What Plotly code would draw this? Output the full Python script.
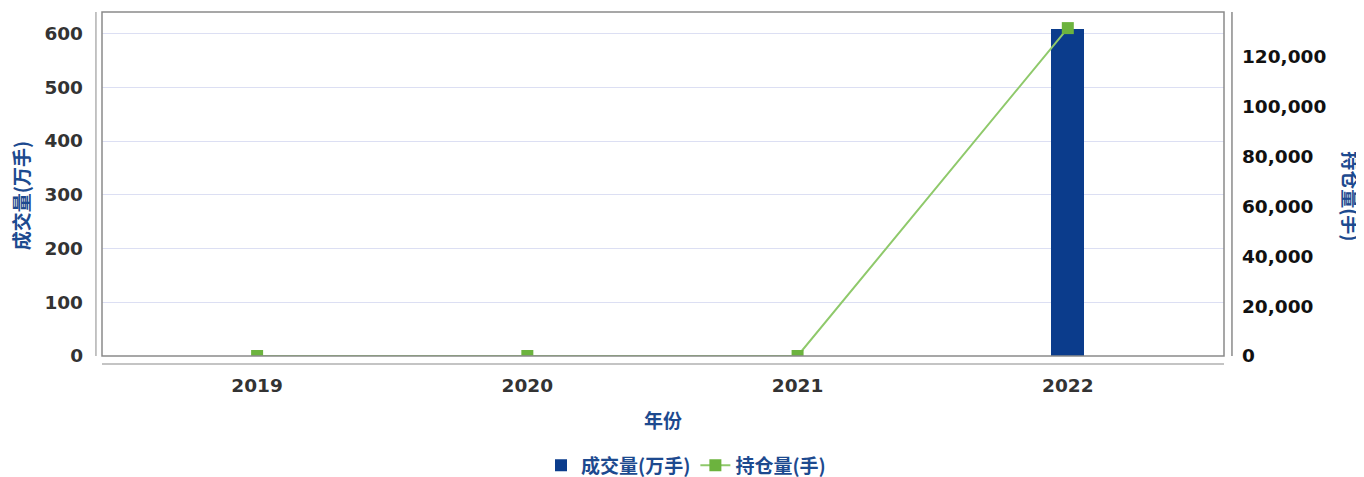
import plotly.graph_objects as go

years = ["2019", "2020", "2021", "2022"]
volume_wan = [0, 0, 0, 609]          # 成交量(万手)
open_interest = [0, 0, 0, 131300]    # 持仓量(手)

left_ticks = [0, 100, 200, 300, 400, 500, 600]
right_ticks = [0, 20000, 40000, 60000, 80000, 100000, 120000]
right_labels = ["0", "20,000", "40,000", "60,000", "80,000", "100,000", "120,000"]

navy = "#0b3c8c"
green = "#6cb33e"
title_blue = "#1d4a8f"
tick_font = dict(family="DejaVu Sans", size=18.5, color="#333333", weight="bold")
title_font = dict(family="Noto Sans CJK SC", size=19, color=title_blue, weight="bold")

fig = go.Figure()
fig.add_trace(go.Bar(
    x=[0, 1, 2, 3], y=volume_wan, name="成交量(万手)",
    marker=dict(color=navy, line=dict(width=0)), width=0.123, yaxis="y",
))
fig.add_trace(go.Scatter(
    x=[0, 1, 2, 3], y=open_interest, name="持仓量(手)", mode="lines+markers",
    line=dict(color="#8fc96b", width=2),
    marker=dict(color=green, symbol="square", size=12),
    yaxis="y2",
))

fig.update_layout(
    width=1356, height=469,
    margin=dict(l=94, r=140, t=4, b=121, autoexpand=False),
    paper_bgcolor="white", plot_bgcolor="white",
    showlegend=True,
    legend=dict(orientation="h", x=0.5, xanchor="center", xref="container",
                y=0.025, yanchor="middle", yref="container",
                font=dict(family="Noto Sans CJK SC", size=19, color=title_blue, weight="bold"),
                itemwidth=30, tracegroupgap=0),
    xaxis=dict(
        tickmode="array", tickvals=[0, 1, 2, 3], ticktext=years,
        range=[-0.574, 3.578], showgrid=False, zeroline=False, showline=False,
        tickfont=tick_font, ticks="", ticklabelstandoff=16,
        title=dict(text="年份", font=title_font, standoff=20),
    ),
    yaxis=dict(
        range=[0, 640], tickvals=left_ticks, showgrid=True, gridcolor="#dcdff3",
        gridwidth=1, zeroline=False, showline=False, ticks="",
        tickfont=tick_font, ticklabelstandoff=18,
    ),
    yaxis2=dict(
        range=[0, 137750], overlaying="y", side="right", tickvals=right_ticks,
        ticktext=right_labels, showgrid=False, zeroline=False, showline=False,
        ticks="", tickfont=dict(family="DejaVu Sans", size=18.5, color="#111111", weight="bold"),
        ticklabelstandoff=17,
    ),
    bargap=0,
)

# plot frame and offset axis lines
fig.add_shape(type="rect", xref="paper", yref="paper", x0=0, x1=1, y0=0, y1=1,
              line=dict(color="#8a8a8a", width=1.5), layer="above")
fig.add_shape(type="line", xref="paper", yref="paper", x0=-0.0054, x1=-0.0054, y0=0, y1=1,
              line=dict(color="#b0b0b0", width=1.5))
fig.add_shape(type="line", xref="paper", yref="paper", x0=1.0071, x1=1.0071, y0=0, y1=1,
              line=dict(color="#8a8a8a", width=1.5))
fig.add_shape(type="line", xref="paper", yref="paper", x0=0, x1=1, y0=-0.023, y1=-0.023,
              line=dict(color="#b0b0b0", width=1.5))

fig.add_annotation(text="成交量(万手)", xref="paper", yref="paper", x=-0.073, y=0.465,
                   textangle=-90, showarrow=False, font=title_font, xanchor="center", yanchor="middle")
fig.add_annotation(text="持仓量(手)", xref="paper", yref="paper", x=1.114, y=0.465,
                   textangle=90, showarrow=False, font=title_font, xanchor="center", yanchor="middle")

fig.write_html("out.html")
